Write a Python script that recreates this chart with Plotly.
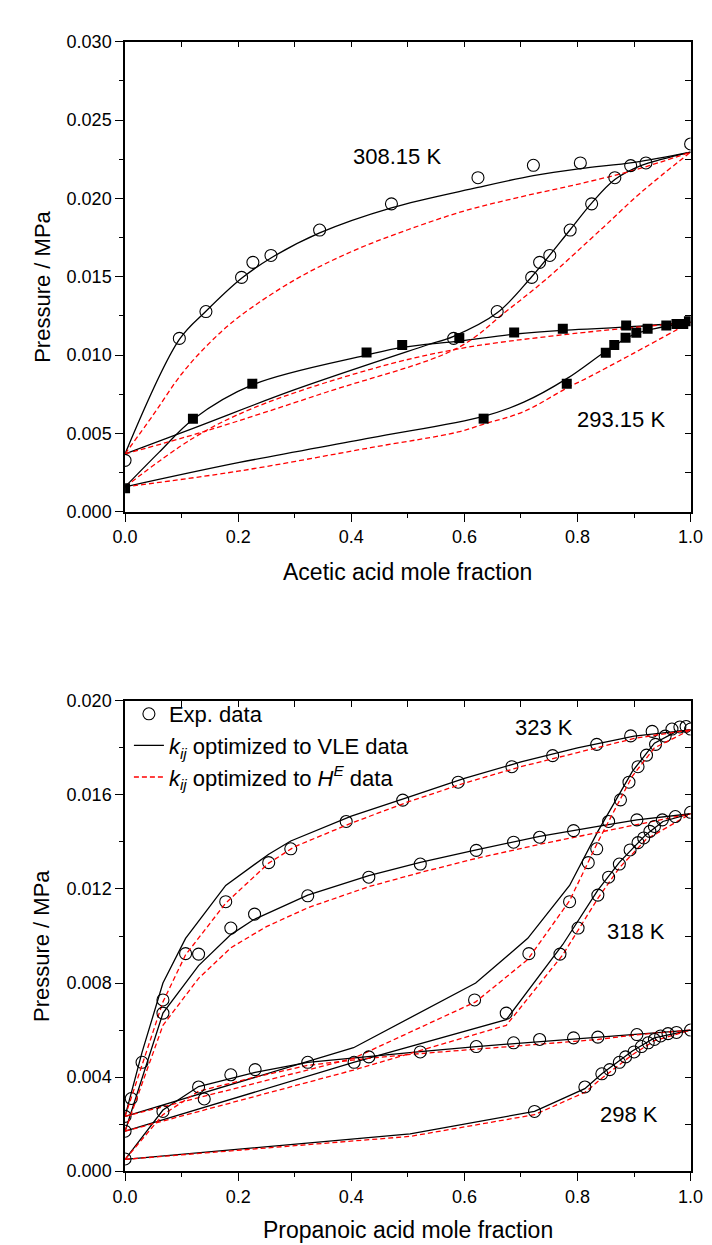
import plotly.graph_objects as go

# ---------------- TOP PANEL: acetic acid ----------------
x308_exp = [0.0, 0.096, 0.143, 0.206, 0.226, 0.258, 0.344, 0.471, 0.624, 0.722, 0.805, 0.894, 0.921, 1.0,
            0.581, 0.658, 0.719, 0.733, 0.751, 0.787, 0.825, 0.866]
p308_exp = [0.00329, 0.01107, 0.01278, 0.01496, 0.01592, 0.01636, 0.01798, 0.01965, 0.02132, 0.02211, 0.02226, 0.02209, 0.02226, 0.02347,
            0.01107, 0.01278, 0.01496, 0.01592, 0.01636, 0.01798, 0.01965, 0.02132]
x293_exp = [0.0, 0.120, 0.225, 0.427, 0.490, 0.591, 0.688, 0.774, 0.886, 0.957, 0.975, 0.987, 0.997,
            0.634, 0.781, 0.850, 0.865, 0.885, 0.904, 0.924]
p293_exp = [0.00151, 0.00595, 0.00818, 0.01017, 0.01065, 0.01109, 0.01145, 0.01168, 0.01189, 0.01189, 0.01199, 0.01199, 0.01216,
            0.00595, 0.00818, 0.01015, 0.01065, 0.01111, 0.01143, 0.01168]

x308_vle_bub = [0, 0.096, 0.143, 0.206, 0.258, 0.344, 0.471, 0.624, 0.722, 0.805, 0.9, 1.0]
p308_vle_bub = [0.0037, 0.0110, 0.0128, 0.0149, 0.0162, 0.0178, 0.0194, 0.0207, 0.02145, 0.0219, 0.0223, 0.02295]
x308_vle_dew = [0, 0.125, 0.3, 0.53, 0.581, 0.658, 0.719, 0.787, 0.825, 0.866, 0.913, 0.95, 1.0]
p308_vle_dew = [0.0037, 0.0054, 0.0078, 0.0106, 0.0112, 0.0127, 0.0150, 0.0180, 0.0197, 0.0212, 0.0221, 0.0225, 0.02295]
x308_he_bub = [0, 0.05, 0.1, 0.15, 0.2, 0.3, 0.4, 0.5, 0.6, 0.7, 0.8, 0.9, 1.0]
p308_he_bub = [0.0037, 0.0062, 0.0088, 0.0108, 0.0124, 0.0148, 0.0166, 0.0180, 0.0192, 0.0201, 0.0209, 0.0218, 0.02295]
x308_he_dew = [0, 0.141, 0.357, 0.589, 0.674, 0.743, 0.844, 0.913, 1.0]
p308_he_dew = [0.0037, 0.00514, 0.00765, 0.01048, 0.0128, 0.0148, 0.0181, 0.0204, 0.02295]

x293_vle_bub = [0, 0.06, 0.12, 0.225, 0.427, 0.49, 0.59, 0.69, 0.78, 0.89, 1.0]
p293_vle_bub = [0.0016, 0.0038, 0.0059, 0.0081, 0.0100, 0.0105, 0.0109, 0.01135, 0.0116, 0.0118, 0.0121]
x293_vle_dew = [0, 0.2, 0.434, 0.634, 0.705, 0.781, 0.852, 0.898, 0.937, 1.0]
p293_vle_dew = [0.0016, 0.00314, 0.00472, 0.0061, 0.0070, 0.0085, 0.0103, 0.0113, 0.0117, 0.0121]
x293_he_bub = [0, 0.12, 0.225, 0.434, 0.589, 0.774, 1.0]
p293_he_bub = [0.0016, 0.0047, 0.0066, 0.0091, 0.0104, 0.0113, 0.0121]
x293_he_dew = [0, 0.2, 0.434, 0.589, 0.634, 0.705, 0.781, 0.82, 0.898, 1.0]
p293_he_dew = [0.0016, 0.0026, 0.0041, 0.0051, 0.0056, 0.0064, 0.0079, 0.0086, 0.0101, 0.0121]

# ---------------- BOTTOM PANEL: propanoic acid ----------------
x323_exp = [0.0, 0.011, 0.03, 0.067, 0.107, 0.178, 0.254, 0.293, 0.391, 0.491, 0.589, 0.684, 0.756, 0.834, 0.894,
            0.932, 0.967, 0.981, 0.992, 1.0, 0.618, 0.714, 0.786, 0.819, 0.834, 0.855, 0.876, 0.891, 0.907, 0.922, 0.938, 0.955]
p323_exp = [0.00233, 0.00309, 0.00463, 0.00728, 0.00925, 0.01146, 0.01312, 0.01371, 0.01487, 0.01578, 0.01654, 0.0172, 0.01767, 0.01815, 0.01851,
            0.0187, 0.0188, 0.01889, 0.01891, 0.0188, 0.00728, 0.00925, 0.01146, 0.01312, 0.01371, 0.01487, 0.01579, 0.01654, 0.0172, 0.01769, 0.01815, 0.0185]
x318_exp = [0.0, 0.067, 0.13, 0.187, 0.229, 0.323, 0.431, 0.522, 0.621, 0.687, 0.733, 0.793, 0.905,
            0.674, 0.769, 0.801, 0.836, 0.855, 0.874, 0.893, 0.907, 0.917, 0.928, 0.936, 0.95, 0.973, 1.0]
p318_exp = [0.0017, 0.00672, 0.00923, 0.01034, 0.01093, 0.01171, 0.0125, 0.01306, 0.01364, 0.01399, 0.0142, 0.01448, 0.01494,
            0.00672, 0.00923, 0.01034, 0.01174, 0.0125, 0.01306, 0.01366, 0.01397, 0.01417, 0.01445, 0.01466, 0.01494, 0.01508, 0.01526]
x298_exp = [0.0, 0.067, 0.13, 0.14, 0.187, 0.23, 0.323, 0.405, 0.431, 0.522, 0.621, 0.687, 0.733, 0.793, 0.836, 0.905,
            0.724, 0.813, 0.843, 0.857, 0.874, 0.885, 0.9, 0.913, 0.925, 0.936, 0.947, 0.96, 0.975, 1.0]
p298_exp = [0.00052, 0.00254, 0.00358, 0.00307, 0.0041, 0.00432, 0.00463, 0.00463, 0.00486, 0.00507, 0.0053, 0.00546, 0.0056, 0.00567, 0.0057, 0.00581,
            0.00254, 0.00358, 0.00414, 0.00432, 0.00463, 0.00486, 0.00507, 0.0053, 0.00546, 0.0056, 0.00575, 0.00585, 0.0059, 0.006]

x323_vle_bub = [0, 0.03, 0.067, 0.107, 0.178, 0.254, 0.293, 0.4, 0.5, 0.6, 0.7, 0.8, 0.9, 1.0]
p323_vle_bub = [0.00233, 0.00505, 0.0080, 0.0099, 0.01215, 0.01348, 0.01404, 0.0151, 0.0159, 0.0167, 0.0174, 0.0180, 0.0185, 0.01877]
x323_vle_dew = [0, 0.404, 0.62, 0.712, 0.786, 0.836, 0.897, 0.936, 0.975, 1.0]
p323_vle_dew = [0.00233, 0.00525, 0.0080, 0.0099, 0.01215, 0.01445, 0.0170, 0.0182, 0.0187, 0.01877]
x323_he_bub = [0, 0.03, 0.067, 0.107, 0.178, 0.254, 0.3, 0.4, 0.5, 0.6, 0.7, 0.8, 0.9, 1.0]
p323_he_bub = [0.00233, 0.0045, 0.0072, 0.0092, 0.0114, 0.0131, 0.0138, 0.0148, 0.0157, 0.0165, 0.0172, 0.0178, 0.0184, 0.01877]
x323_he_dew = [0, 0.404, 0.62, 0.712, 0.786, 0.836, 0.897, 0.936, 1.0]
p323_he_dew = [0.00233, 0.0048, 0.0072, 0.0090, 0.0115, 0.0140, 0.0168, 0.0180, 0.01877]

x318_vle_bub = [0, 0.067, 0.13, 0.187, 0.227, 0.323, 0.431, 0.522, 0.621, 0.733, 0.836, 0.905, 1.0]
p318_vle_bub = [0.0017, 0.00672, 0.00874, 0.01006, 0.01069, 0.01174, 0.01257, 0.01313, 0.01366, 0.01424, 0.01466, 0.01494, 0.0152]
x318_vle_dew = [0, 0.404, 0.674, 0.774, 0.836, 0.874, 0.921, 0.951, 1.0]
p318_vle_dew = [0.0017, 0.00463, 0.00644, 0.00964, 0.01195, 0.01313, 0.01431, 0.01487, 0.0152]
x318_he_bub = [0, 0.067, 0.13, 0.187, 0.25, 0.323, 0.431, 0.522, 0.621, 0.733, 0.836, 1.0]
p318_he_bub = [0.0017, 0.0062, 0.0082, 0.0095, 0.0104, 0.0112, 0.0121, 0.0127, 0.0133, 0.0139, 0.0144, 0.0152]
x318_he_dew = [0, 0.404, 0.674, 0.774, 0.836, 0.874, 0.921, 1.0]
p318_he_dew = [0.0017, 0.0043, 0.0062, 0.0092, 0.0116, 0.0129, 0.0141, 0.0152]

x298_vle_bub = [0, 0.067, 0.13, 0.23, 0.323, 0.431, 0.522, 0.621, 0.733, 0.836, 0.905, 1.0]
p298_vle_bub = [0.0005, 0.0026, 0.0036, 0.0042, 0.00463, 0.00486, 0.00508, 0.0053, 0.0055, 0.0057, 0.0058, 0.0060]
x298_vle_dew = [0, 0.504, 0.724, 0.813, 0.843, 0.897, 0.936, 1.0]
p298_vle_dew = [0.0005, 0.00159, 0.00254, 0.00351, 0.00414, 0.00511, 0.00567, 0.0060]
x298_he_bub = [0, 0.067, 0.13, 0.23, 0.323, 0.431, 0.522, 0.621, 0.733, 0.836, 0.905, 1.0]
p298_he_bub = [0.0005, 0.0024, 0.0034, 0.0040, 0.0045, 0.0048, 0.0050, 0.0052, 0.0054, 0.0056, 0.0058, 0.0060]
x298_he_dew = [0, 0.504, 0.724, 0.813, 0.843, 0.897, 0.936, 1.0]
p298_he_dew = [0.0005, 0.00148, 0.00240, 0.00335, 0.00395, 0.00495, 0.00555, 0.0060]

FONT = "Arial, Liberation Sans, sans-serif"
W, H = 712, 1245
XL, XR = 108, 695
TOP = (24, 502)
BOT = (694, 1172)

def ydom(t, b):
    return [1 - b / H, 1 - t / H]

fig = go.Figure()

BLACK = dict(color="black", width=1.3)
RED = dict(color="#ff0000", width=1.3, dash="5px,3px")

def line(x, y, style, xa, ya, shape="linear", name=None, show=False):
    fig.add_trace(go.Scatter(x=x, y=y, mode="lines", line=dict(**style, shape=shape),
                             xaxis=xa, yaxis=ya, name=name, showlegend=show, hoverinfo="skip"))

def circles(x, y, xa, ya, name=None, show=False):
    fig.add_trace(go.Scatter(x=x, y=y, mode="markers", xaxis=xa, yaxis=ya, name=name, showlegend=show,
                             marker=dict(symbol="circle-open", size=12, color="black", line=dict(width=1.1))))

# top panel
line(x308_vle_bub, p308_vle_bub, BLACK, "x", "y", "spline")
line(x308_vle_dew, p308_vle_dew, BLACK, "x", "y", "spline")
line(x293_vle_bub, p293_vle_bub, BLACK, "x", "y", "spline")
line(x293_vle_dew, p293_vle_dew, BLACK, "x", "y", "spline")
line(x308_he_bub, p308_he_bub, RED, "x3", "y3", "spline")
line(x308_he_dew, p308_he_dew, RED, "x3", "y3", "spline")
line(x293_he_bub, p293_he_bub, RED, "x3", "y3", "spline")
line(x293_he_dew, p293_he_dew, RED, "x3", "y3", "spline")
circles(x308_exp, p308_exp, "x3", "y3")
fig.add_trace(go.Scatter(x=x293_exp, y=p293_exp, mode="markers", xaxis="x3", yaxis="y3", showlegend=False,
                         marker=dict(symbol="square", size=10, color="black")))

# bottom panel
circles(x323_exp, p323_exp, "x4", "y4", name="Exp. data", show=True)
line(x323_vle_bub, p323_vle_bub, BLACK, "x2", "y2", name="<i>k<sub>ij</sub></i> optimized to VLE data", show=True)
line(x323_he_bub, p323_he_bub, RED, "x4", "y4", name="<i>k<sub>ij</sub></i> optimized to <i>H<sup>E</sup></i> data", show=True)
line(x323_vle_dew, p323_vle_dew, BLACK, "x2", "y2")
line(x318_vle_bub, p318_vle_bub, BLACK, "x2", "y2")
line(x318_vle_dew, p318_vle_dew, BLACK, "x2", "y2")
line(x298_vle_bub, p298_vle_bub, BLACK, "x2", "y2")
line(x298_vle_dew, p298_vle_dew, BLACK, "x2", "y2")
line(x323_he_dew, p323_he_dew, RED, "x4", "y4")
line(x318_he_bub, p318_he_bub, RED, "x4", "y4")
line(x318_he_dew, p318_he_dew, RED, "x4", "y4")
line(x298_he_bub, p298_he_bub, RED, "x4", "y4")
line(x298_he_dew, p298_he_dew, RED, "x4", "y4")
circles(x318_exp, p318_exp, "x4", "y4")
circles(x298_exp, p298_exp, "x4", "y4")

xdom = [XL / W, XR / W]
tickfont = dict(family=FONT, size=18, color="black")

def xmain(anchor):
    return dict(domain=xdom, anchor=anchor, range=[0, 1], showgrid=False, zeroline=False,
                showline=True, linecolor="black", linewidth=1.6, ticks="outside", ticklen=8, tickwidth=1.4,
                tickcolor="black", dtick=0.2, tick0=0, tickformat=".1f", tickfont=tickfont,
                minor=dict(dtick=0.1, ticks="outside", ticklen=4, tickwidth=1.2, tickcolor="black"))

def xmirror(ov, anchor):
    return dict(domain=xdom, overlaying=ov, anchor=anchor, side="top", range=[0, 1], showgrid=False,
                zeroline=False, showline=True, linecolor="black", linewidth=1.6, ticks="inside", ticklen=6,
                tickwidth=1.2, tickcolor="black", dtick=0.1, tick0=0, showticklabels=False)

def ymain(anchor, dom, rng, dt):
    return dict(domain=dom, anchor=anchor, range=rng, showgrid=False, zeroline=False,
                showline=True, linecolor="black", linewidth=1.6, ticks="outside", ticklen=8, tickwidth=1.4,
                tickcolor="black", dtick=dt, tick0=0, tickformat=".3f", tickfont=tickfont,
                minor=dict(dtick=dt / 2, ticks="outside", ticklen=4, tickwidth=1.2, tickcolor="black"))

def ymirror(ov, anchor, dom, rng, dt):
    return dict(domain=dom, overlaying=ov, anchor=anchor, side="right", range=rng, showgrid=False,
                zeroline=False, showline=True, linecolor="black", linewidth=1.6, ticks="inside", ticklen=6,
                tickwidth=1.2, tickcolor="black", dtick=dt / 2, tick0=0, showticklabels=False)

fig.update_layout(
    width=W, height=H, margin=dict(l=0, r=0, t=0, b=0),
    paper_bgcolor="white", plot_bgcolor="rgba(0,0,0,0)",
    font=dict(family=FONT, color="black"),
    xaxis=xmain("y"),
    yaxis=ymain("x", ydom(*TOP), [0, 0.030], 0.005),
    xaxis3=xmirror("x", "y3"),
    yaxis3=ymirror("y", "x3", ydom(*TOP), [0, 0.030], 0.005),
    xaxis2=xmain("y2"),
    yaxis2=ymain("x2", ydom(*BOT), [0, 0.020], 0.004),
    xaxis4=xmirror("x2", "y4"),
    yaxis4=ymirror("y2", "x4", ydom(*BOT), [0, 0.020], 0.004),
    legend=dict(x=112 / W, y=1 - 686 / H, xanchor="left", yanchor="top", bgcolor="rgba(0,0,0,0)",
                font=dict(family=FONT, size=22, color="black"), tracegroupgap=0),
    showlegend=True,
)

ann = []
def label(text, x, y, xref, yref, size=22, angle=0):
    ann.append(dict(text=text, x=x, y=y, xref=xref, yref=yref, showarrow=False, textangle=angle,
                    font=dict(family=FONT, size=size, color="black"), xanchor="center", yanchor="middle"))

label("308.15 K", 0.48, 0.0227, "x", "y")
label("293.15 K", 0.877, 0.00592, "x", "y")
label("323 K", 0.741, 0.01887, "x2", "y2")
label("318 K", 0.903, 0.0102, "x2", "y2")
label("298 K", 0.891, 0.00243, "x2", "y2")
label("Acetic acid mole fraction", (XL + XR) / 2 / W, 1 - 563 / H, "paper", "paper", size=23)
label("Propanoic acid mole fraction", (XL + XR) / 2 / W, 1 - 1232 / H, "paper", "paper", size=23)
label("Pressure / MPa", 22 / W, 1 - 273 / H, "paper", "paper", size=22, angle=-90)
label("Pressure / MPa", 22 / W, 1 - 943 / H, "paper", "paper", size=22, angle=-90)
fig.update_layout(annotations=ann)

fig.write_html("out.html")
